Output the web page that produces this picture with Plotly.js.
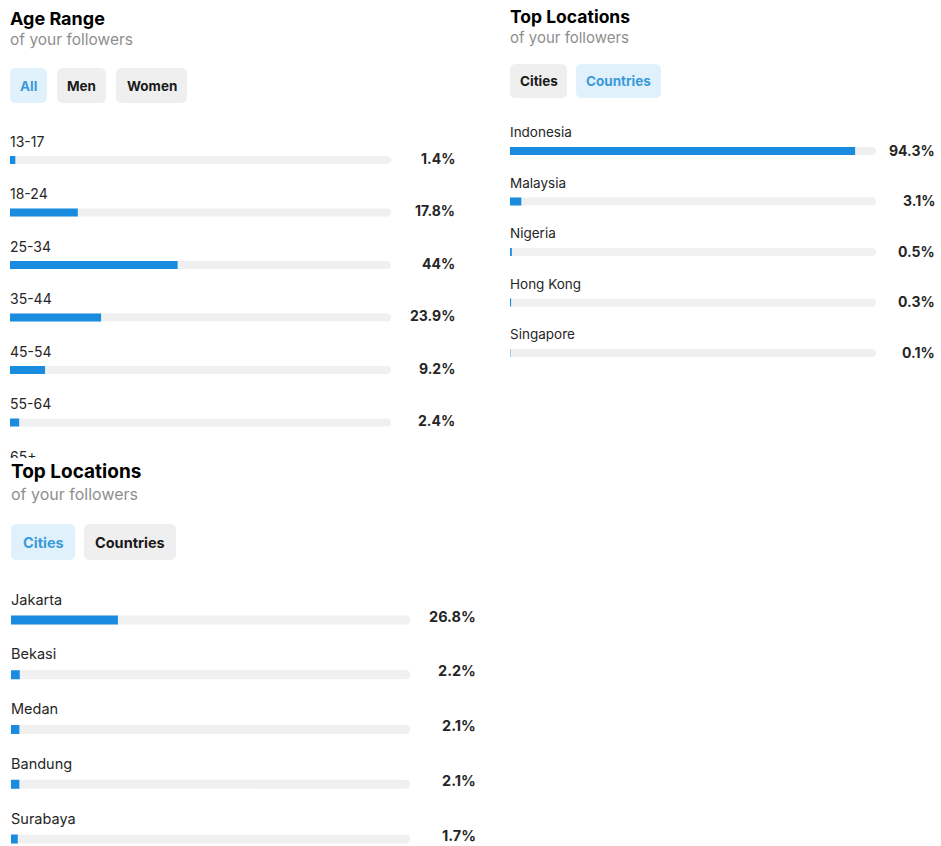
<!DOCTYPE html>
<html>
<head>
<meta charset="utf-8">
<script src="https://cdn.plot.ly/plotly-3.0.1.min.js"></script>
<style>html,body{margin:0;padding:0;background:#fff;}#chart{width:941px;height:846px;}</style>
</head>
<body>
<div id="chart"></div>
<script>
// ---- data ----
const ageLabels = ['13-17', '18-24', '25-34', '35-44', '45-54', '55-64', '65+'];
const ageValues = [1.4, 17.8, 44, 23.9, 9.2, 2.4];
const countryLabels = ['Indonesia', 'Malaysia', 'Nigeria', 'Hong Kong', 'Singapore'];
const countryValues = [94.3, 3.1, 0.5, 0.3, 0.1];
const cityLabels = ['Jakarta', 'Bekasi', 'Medan', 'Bandung', 'Surabaya'];
const cityValues = [26.8, 2.2, 2.1, 2.1, 1.7];
const ageTabs = ['All', 'Men', 'Women'];
const countryTabs = ['Cities', 'Countries'];
const cityTabs = ['Cities', 'Countries'];

// ---- geometry / style ----
const W = 941, H = 846;
const FONT = 'Inter, "Noto Sans", sans-serif';
const BLUE = '#1a8ce0', TRACK = '#f0f0f0', TXT = '#262626', SUB = '#8e8e8e';
const px = x => x / W, py = y => 1 - y / H;

const panels = [
  {labels: ageLabels, values: ageValues, ax: '', left: 10, right: 391, top: 128, bottom: 458, first: 160, step: 52.5,
   gap: 17, valueX: 457, vshift: 2, bar: 8, lsize: 14, vsize: 14,
   title: 'Age Range', tx: 8, ty: 18, tsize: 18, sy: 40, ssize: 15.5,
   tabs: ageTabs, active: 0, tabX: [[10, 47], [57, 106], [116, 187]], tabY: [68, 103], tabSize: 13.5},
  {labels: countryLabels, values: countryValues, ax: '2', left: 510, right: 876, top: 116, bottom: 375, first: 151, step: 50.5,
   gap: 17, valueX: 937, vshift: 1, bar: 8, lsize: 13.5, vsize: 14,
   title: 'Top Locations', tx: 508, ty: 17, tsize: 17.5, sy: 37, ssize: 15,
   tabs: countryTabs, active: 1, tabX: [[510, 567], [576, 661]], tabY: [64, 98], tabSize: 13.5},
  {labels: cityLabels, values: cityValues, ax: '3', left: 11, right: 410, top: 582, bottom: 846, first: 620, step: 54.75,
   gap: 19, valueX: 478, vshift: 4, bar: 9, lsize: 14.5, vsize: 14.5,
   title: 'Top Locations', tx: 9, ty: 471, tsize: 19, sy: 494, ssize: 16,
   tabs: cityTabs, active: 0, tabX: [[11, 75], [84, 176]], tabY: [524, 560], tabSize: 14.5}
];

function roundRect(x0, x1, y0, y1, r) {
  const P = (x, y) => px(x) + ',' + py(y);
  return `M ${P(x0 + r, y0)} L ${P(x1 - r, y0)} Q ${P(x1, y0)} ${P(x1, y0 + r)} L ${P(x1, y1 - r)} Q ${P(x1, y1)} ${P(x1 - r, y1)} L ${P(x0 + r, y1)} Q ${P(x0, y1)} ${P(x0, y1 - r)} L ${P(x0, y0 + r)} Q ${P(x0, y0)} ${P(x0 + r, y0)} Z`;
}

const traces = [], annotations = [], shapes = [];
const layout = {
  width: W, height: H, margin: {l: 0, r: 0, t: 0, b: 0},
  paper_bgcolor: '#fff', plot_bgcolor: 'rgba(0,0,0,0)',
  showlegend: false, barmode: 'overlay', barcornerradius: '50%', font: {family: FONT, color: TXT},
  hovermode: false
};

panels.forEach(p => {
  const xa = 'x' + p.ax, ya = 'y' + p.ax;
  const idx = p.values.map((_, i) => i);
  const wData = p.bar / p.step;
  layout['xaxis' + p.ax] = {domain: [px(p.left), px(p.right)], range: [0, 100], visible: false, fixedrange: true};
  layout['yaxis' + p.ax] = {domain: [py(p.bottom), py(p.top)],
    range: [(p.bottom - p.first) / p.step, (p.top - p.first) / p.step], visible: false, fixedrange: true};
  // track
  traces.push({type: 'bar', orientation: 'h', x: idx.map(() => 100), y: idx, xaxis: xa, yaxis: ya,
    width: wData, marker: {color: TRACK, cornerradius: '50%'}, hoverinfo: 'skip'});
  // values
  traces.push({type: 'bar', orientation: 'h', x: p.values, y: idx, xaxis: xa, yaxis: ya,
    width: wData, marker: {color: BLUE, cornerradius: '50%'}, hoverinfo: 'skip'});
  // row labels
  traces.push({type: 'scatter', mode: 'text', x: p.labels.map(() => 0), y: p.labels.map((_, i) => i - p.gap / p.step),
    text: p.labels, textposition: 'middle right', cliponaxis: true, xaxis: xa, yaxis: ya,
    textfont: {family: FONT, size: p.lsize, color: TXT}, hoverinfo: 'skip'});
  // value texts
  p.values.forEach((v, i) => {
    annotations.push({xref: xa + ' domain', yref: ya, x: (p.valueX - p.left) / (p.right - p.left), y: i,
      xanchor: 'right', yanchor: 'middle', yshift: p.vshift, showarrow: false, text: v + '%',
      font: {family: FONT, size: p.vsize, color: TXT, weight: 700}});
  });
  // title + subtitle
  annotations.push({xref: 'paper', yref: 'paper', x: px(p.tx), y: py(p.ty), xanchor: 'left', yanchor: 'middle',
    showarrow: false, text: p.title, font: {family: FONT, size: p.tsize, color: '#000', weight: 700}});
  annotations.push({xref: 'paper', yref: 'paper', x: px(p.tx), y: py(p.sy), xanchor: 'left', yanchor: 'middle',
    showarrow: false, text: 'of your followers', font: {family: FONT, size: p.ssize, color: SUB}});
  // tabs
  p.tabs.forEach((t, k) => {
    const [x0, x1] = p.tabX[k], [y0, y1] = p.tabY;
    const on = k === p.active;
    shapes.push({type: 'path', xref: 'paper', yref: 'paper', path: roundRect(x0, x1, y0, y1, 6),
      fillcolor: on ? '#e0f1fc' : '#efefef', line: {width: 0}, layer: 'below'});
    annotations.push({xref: 'paper', yref: 'paper', x: px((x0 + x1) / 2), y: py((y0 + y1) / 2),
      xanchor: 'center', yanchor: 'middle', showarrow: false, text: t,
      font: {family: FONT, size: p.tabSize, color: on ? '#3b9ad9' : '#1a1a1a', weight: 700}});
  });
});

layout.annotations = annotations;
layout.shapes = shapes;
Plotly.newPlot('chart', traces, layout, {displayModeBar: false, staticPlot: true});
</script>
</body>
</html>
